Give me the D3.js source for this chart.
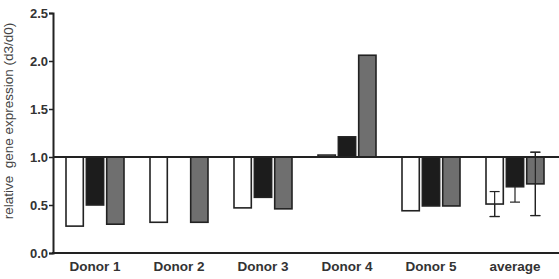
<!DOCTYPE html>
<html><head><meta charset="utf-8">
<script src="https://cdn.jsdelivr.net/npm/d3@7"></script>
<style>body{margin:0;background:#fff}svg{display:block}</style>
</head><body>
<svg id="c" width="559" height="279"></svg>
<script>
const categories = ["Donor 1","Donor 2","Donor 3","Donor 4","Donor 5","average"];
const seriesNames = ["white","black","gray"];
const whiteVals = [0.28,0.32,0.47,1.02,0.44,0.51];
const blackVals = [0.50,null,0.58,1.21,0.49,0.69];
const grayVals  = [0.30,0.32,0.46,2.06,0.49,0.72];
const errWhite = [null,null,null,null,null,0.13];
const errBlack = [null,null,null,null,null,0.16];
const errGray  = [null,null,null,null,null,0.33];
const yTicks = [0,0.5,1.0,1.5,2.0,2.5];
const yLabel = "relative  gene expression (d3/d0)";
const baselineValue = 1.0;

const fills = {white:"#ffffff", black:"#1c1c1c", gray:"#6f6f6f"};
const vals = {white:whiteVals, black:blackVals, gray:grayVals};
const errs = {white:errWhite, black:errBlack, gray:errGray};
const FONT = "Liberation Sans, Arial, sans-serif";

const svg = d3.select("#c");
const axX = 53, yBottom = 253, yTop = 13;
const y = d3.scaleLinear().domain([0,2.5]).range([yBottom,yTop]);
const x0 = d3.scaleBand().domain(categories).range([axX,557]).padding(0);
const x1 = d3.scaleBand().domain(seriesNames).range([13, 71]).paddingInner(0.15);

const data = [];
categories.forEach((c,i)=>{
  seriesNames.forEach(s=>{
    const v = vals[s][i];
    if(v!=null) data.push({c,s,v,e:errs[s][i]});
  });
});

function drawErr(g, d){
  const cx = x0(d.c)+x1(d.s)+x1.bandwidth()/2;
  g.append("line").attr("x1",cx).attr("x2",cx).attr("y1",y(d.v-d.e)).attr("y2",y(d.v+d.e));
  [d.v-d.e,d.v+d.e].forEach(t=>{
    g.append("line").attr("x1",cx-5).attr("x2",cx+5).attr("y1",y(t)).attr("y2",y(t));
  });
}

const eb = svg.append("g").attr("stroke","#222").attr("stroke-width",1.2);
data.filter(d=>d.e!=null).forEach(d=>drawErr(eb,d));

svg.append("g").selectAll("rect").data(data).join("rect")
  .attr("x",d=>x0(d.c)+x1(d.s))
  .attr("width",x1.bandwidth())
  .attr("y",d=>Math.min(y(d.v),y(baselineValue)))
  .attr("height",d=>Math.abs(y(d.v)-y(baselineValue)))
  .attr("fill",d=>fills[d.s])
  .attr("stroke","#222").attr("stroke-width",1.6);

const eb2 = svg.append("g").attr("stroke","#222").attr("stroke-width",1.2);
data.filter(d=>d.e!=null && d.s!=="black").forEach(d=>drawErr(eb2,d));

svg.append("line").attr("x1",axX).attr("x2",559).attr("y1",y(baselineValue)).attr("y2",y(baselineValue))
  .attr("stroke","#222").attr("stroke-width",2);

const yAxis = d3.axisLeft(y).tickValues(yTicks).tickFormat(d3.format(".1f")).tickSizeOuter(0).tickSize(4).tickPadding(1);
const gy = svg.append("g").attr("transform",`translate(${axX},0)`).call(yAxis);
gy.select(".domain").attr("stroke","#222").attr("stroke-width",2);
gy.selectAll(".tick line").attr("stroke","#222").attr("stroke-width",1.5);
gy.selectAll(".tick text").attr("font-family",FONT).attr("font-weight","bold").attr("font-size",13).attr("fill","#333");

const xAxis = d3.axisBottom(x0).tickSize(0).tickPadding(8);
const gx = svg.append("g").attr("transform",`translate(0,${yBottom})`).call(xAxis);
gx.select(".domain").attr("d",`M${axX-1},0H559`).attr("stroke","#222").attr("stroke-width",2);
gx.selectAll(".tick text").attr("font-family",FONT).attr("font-weight","bold").attr("font-size",13.5).attr("fill","#333");

svg.append("text").attr("transform",`translate(13,${121}) rotate(-90)`)
  .attr("text-anchor","middle").attr("font-family",FONT).attr("xml:space","preserve")
  .style("white-space","pre")
  .attr("font-size",13.5).attr("fill","#444").text(yLabel);
</script>
</body></html>
